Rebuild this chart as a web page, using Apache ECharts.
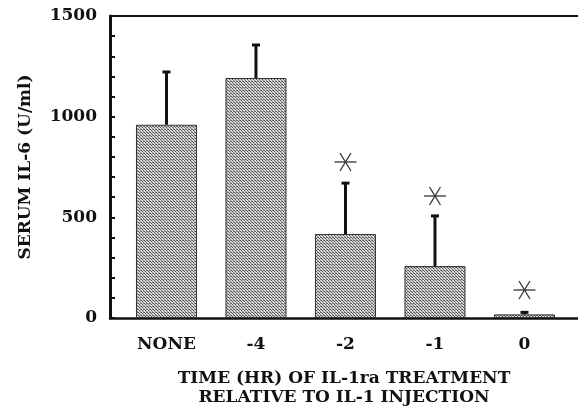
<!DOCTYPE html>
<html>
<head>
<meta charset="utf-8">
<script src="https://cdn.jsdelivr.net/npm/echarts@6/dist/echarts.min.js"></script>
<style>
  html, body { margin: 0; padding: 0; background: #fff; }
  #main { width: 578px; height: 407px; }
</style>
</head>
<body>
<div id="main"></div>
<script>
// serum IL-6 after IL-1ra at different times
var categories = ['NONE', '-4', '-2', '-1', '0'];
var means = [960, 1192, 417, 258, 18];
var upperErr = [1222, 1356, 670, 507, 28];
var stars = [null, null, 775, 606, 139];
var yTicks = [0, 500, 1000, 1500];

var font = 'DejaVu Serif';

// little checker pattern for the bars
function makePattern() {
    var c = document.createElement('canvas');
    c.width = 3; c.height = 3;
    var ctx = c.getContext('2d');
    ctx.fillStyle = '#d8d8d8';
    ctx.fillRect(0, 0, 3, 3);
    ctx.fillStyle = '#505050';
    ctx.fillRect(0, 0, 1, 1);
    ctx.fillRect(1, 1, 1, 1);
    ctx.fillStyle = '#848484';
    ctx.fillRect(2, 2, 1, 1);
    ctx.fillRect(2, 0, 1, 1);
    return c;
}

var barData = [], errData = [], starData = [];
for (var i = 0; i < categories.length; i++) {
    barData.push([i, means[i]]);
    errData.push([i, means[i], upperErr[i]]);
    if (stars[i] !== null) starData.push([i, stars[i]]);
}

var myChart = echarts.init(document.getElementById('main'));

var option = {
    animation: false,
    grid: { left: 110, right: 0, top: 16, bottom: 89, outerBoundsMode: 'none' },
    xAxis: [{
        type: 'value',
        min: -0.631,
        max: 4.598,
        position: 'bottom',
        axisLine: { show: true, onZero: false, lineStyle: { color: '#111', width: 2.5 } },
        axisTick: { show: false },
        splitLine: { show: false },
        axisLabel: {
            customValues: [0, 1, 2, 3, 4],
            formatter: function (v) { return categories[Math.round(v)]; },
            color: '#111',
            fontFamily: font,
            fontWeight: 'bold',
            fontSize: 17,
            margin: 18
        },
        name: 'TIME (HR) OF IL-1ra TREATMENT\nRELATIVE TO IL-1 INJECTION',
        nameLocation: 'middle',
        nameGap: 51,
        nameTextStyle: {
            color: '#111',
            fontFamily: font,
            fontWeight: 'bold',
            fontSize: 17,
            lineHeight: 19
        }
    }, {
        type: 'value',
        min: -0.631,
        max: 4.598,
        position: 'top',
        axisLine: { show: true, onZero: false, lineStyle: { color: '#111', width: 2 } },
        axisTick: { show: false },
        axisLabel: { show: false },
        splitLine: { show: false }
    }],
    yAxis: {
        type: 'value',
        min: 0,
        max: 1500,
        interval: 500,
        axisLine: { show: true, onZero: false, lineStyle: { color: '#111', width: 3 } },
        axisTick: { show: true, inside: true, length: 5, lineStyle: { color: '#111', width: 2 } },
        minorTick: { show: true, splitNumber: 5, length: 5, lineStyle: { color: '#111', width: 2 } },
        splitLine: { show: false },
        axisLabel: {
            color: '#111',
            fontFamily: font,
            fontWeight: 'bold',
            fontSize: 17,
            margin: 13,
            formatter: function (v) { return yTicks.indexOf(v) >= 0 ? String(v) : ''; }
        },
        name: 'SERUM IL-6 (U/ml)',
        nameLocation: 'middle',
        nameGap: 76,
        nameTextStyle: {
            color: '#111',
            fontFamily: font,
            fontWeight: 'bold',
            fontSize: 17
        }
    },
    series: [{
        type: 'bar',
        data: barData,
        barWidth: 61,
        itemStyle: {
            color: { image: makePattern(), repeat: 'repeat' },
            borderColor: '#333',
            borderWidth: 1
        }
    }, {
        type: 'custom',
        data: errData,
        renderItem: function (params, api) {
            var base = api.coord([api.value(0), api.value(1)]);
            var top = api.coord([api.value(0), api.value(2)]);
            return {
                type: 'group',
                children: [{
                    type: 'line',
                    shape: { x1: base[0], y1: base[1], x2: top[0], y2: top[1] },
                    style: { stroke: '#111', lineWidth: 3 }
                }, {
                    type: 'line',
                    shape: { x1: top[0] - 4, y1: top[1], x2: top[0] + 4, y2: top[1] },
                    style: { stroke: '#111', lineWidth: 3 }
                }]
            };
        },
        z: 3
    }, {
        type: 'custom',
        data: starData,
        renderItem: function (params, api) {
            var p = api.coord([api.value(0), api.value(1)]);
            var r = 11, s = 5.5, h = 9;
            var st = { stroke: '#333', lineWidth: 1.3 };
            return {
                type: 'group',
                children: [
                    { type: 'line', shape: { x1: p[0] - r, y1: p[1], x2: p[0] + r, y2: p[1] }, style: st },
                    { type: 'line', shape: { x1: p[0] - s, y1: p[1] - h, x2: p[0] + s, y2: p[1] + h }, style: st },
                    { type: 'line', shape: { x1: p[0] - s, y1: p[1] + h, x2: p[0] + s, y2: p[1] - h }, style: st }
                ]
            };
        },
        z: 3
    }]
};

myChart.setOption(option);
</script>
</body>
</html>
